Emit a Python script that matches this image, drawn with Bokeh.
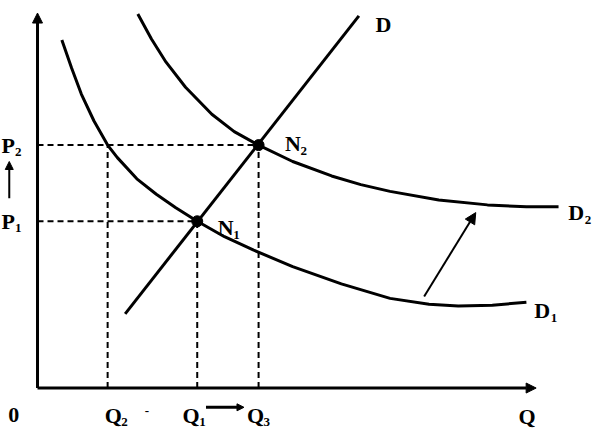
from bokeh.plotting import figure
from bokeh.models import Range1d, Arrow, NormalHead
from bokeh.core.properties import value
from bokeh.embed import file_html
from bokeh.resources import INLINE

# Demand curve D1 (Q, P)
D1_Q = [25, 35, 45, 58, 72, 82, 102, 122, 142, 164, 192, 222, 262, 312, 362, 402, 432, 467, 502]
D1_P = [361, 332, 305, 277, 252, 239, 217, 201, 187, 173, 157, 143, 126, 108, 93, 87, 85, 86, 89]
# Demand curve D2 (shifted)
D2_Q = [103, 117, 132, 152, 179, 202, 227, 262, 302, 332, 362, 412, 462, 502, 535]
D2_P = [388, 362, 338, 312, 284, 266, 252, 235, 220, 211, 204, 195, 190, 188, 188]
# Line D
D_Q = [90, 330]
D_P = [77, 386]
# Equilibrium points N1, N2
N_Q = [164, 227]
N_P = [173, 252]
# Reference levels
P1, P2 = 173, 252
Q1, Q2, Q3 = 164, 72, 227
# Axis extents
Q_MAX, P_MAX = 512, 389
# Shift arrow
SHIFT_FROM = (397, 95)
SHIFT_TO = (450, 182)

FONT = value("Liberation Serif")

p = figure(width=597, height=429, x_range=Range1d(-38, 575), y_range=Range1d(-43, 402),
           output_backend="svg", toolbar_location=None, min_border=0,
           x_axis_location=None, y_axis_location=None)
p.grid.visible = False
p.outline_line_color = None
p.background_fill_color = "white"
p.border_fill_color = "white"

# axes with arrow heads
p.add_layout(Arrow(end=NormalHead(size=10, fill_color="black", line_color="black", line_width=1),
                   x_start=0, y_start=0, x_end=0, y_end=P_MAX, line_width=3, line_color="black"))
p.add_layout(Arrow(end=NormalHead(size=10, fill_color="black", line_color="black", line_width=1),
                   x_start=0, y_start=0, x_end=Q_MAX, y_end=0, line_width=3, line_color="black"))

# dashed guide lines
p.segment(x0=[0, 0], y0=[P2, P1], x1=[Q3, Q1], y1=[P2, P1],
          line_color="black", line_width=2, line_dash="6 4")
p.segment(x0=[Q2, Q1, Q3], y0=[0, 0, 0], x1=[Q2, Q1, Q3], y1=[P2, P1, P2],
          line_color="black", line_width=2, line_dash="6 4")

# curves
p.line(D1_Q, D1_P, line_color="black", line_width=3, line_join="round")
p.line(D2_Q, D2_P, line_color="black", line_width=3, line_join="round")
p.line(D_Q, D_P, line_color="black", line_width=3)

# points
p.scatter(N_Q, N_P, size=11, fill_color="black", line_color="black")

# shift arrow
p.add_layout(Arrow(end=NormalHead(size=11, fill_color="black", line_color="black", line_width=1),
                   x_start=SHIFT_FROM[0], y_start=SHIFT_FROM[1], x_end=SHIFT_TO[0], y_end=SHIFT_TO[1],
                   line_width=2, line_color="black"))

# small arrows near labels
p.add_layout(Arrow(end=NormalHead(size=8, fill_color="black", line_color="black", line_width=1),
                   x_start=-29, y_start=197, x_end=-29, y_end=235, line_width=2, line_color="black"))
p.add_layout(Arrow(end=NormalHead(size=7, fill_color="black", line_color="black", line_width=1),
                   x_start=173, y_start=-20, x_end=212, y_end=-20, line_width=3, line_color="black"))

# main labels
main_x = [347, 254, 185, 545, 510, -37, -37, -30, 69, 149, 215, 494]
main_y = [377, 254, 167, 182, 80, 252, 173, -28, -28, -28, -28, -29]
main_t = ["D", "N", "N", "D", "D", "P", "P", "0", "Q", "Q", "Q", "Q"]
p.text(main_x, main_y, text=main_t, text_font=FONT, text_font_style="bold",
       text_font_size="22px", text_baseline="alphabetic", text_align="left", text_color="black")

# subscripts
sub_x = [270, 201, 562, 527, -23, -23, 86, 166, 232]
sub_y = [246, 159, 174, 73, 245, 166, -35, -35, -35]
sub_t = ["2", "1", "2", "1", "2", "1", "2", "1", "3"]
p.text(sub_x, sub_y, text=sub_t, text_font=FONT, text_font_style="bold",
       text_font_size="13px", text_baseline="alphabetic", text_align="left", text_color="black")

p.text([110], [-24], text=["-"], text_font=FONT, text_font_style="bold",
       text_font_size="13px", text_baseline="alphabetic", text_align="left", text_color="black")

open("out.html", "w").write(file_html(p, INLINE))
